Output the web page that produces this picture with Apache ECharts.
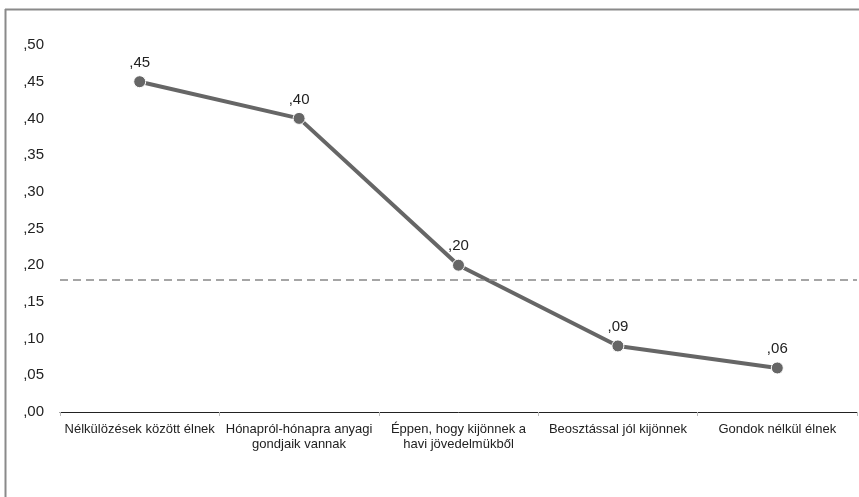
<!DOCTYPE html>
<html><head><meta charset="utf-8">
<script src="https://cdn.jsdelivr.net/npm/echarts@6/dist/echarts.min.js"></script>
<style>html,body{margin:0;padding:0;background:#fff}#c{width:859px;height:497px}</style>
</head><body><div id="c"></div>
<script>
const categories = ['Nélkülözések között élnek', 'Hónapról-hónapra anyagi\ngondjaik vannak', 'Éppen, hogy kijönnek a\nhavi jövedelmükből', 'Beosztással jól kijönnek', 'Gondok nélkül élnek'];
const values = [0.45, 0.40, 0.20, 0.09, 0.06];
const referenceValue = 0.179;
const yTicks = [0, 0.05, 0.1, 0.15, 0.2, 0.25, 0.3, 0.35, 0.4, 0.45, 0.5];

const fmt = v => v.toFixed(2).replace(/^0\./, ',');
const chart = echarts.init(document.getElementById('c'));
chart.setOption({
  animation: false,
  backgroundColor: '#fff',
  textStyle: { fontFamily: 'Liberation Sans, Arial, sans-serif' },
  grid: { left: 60, right: 2, top: 45, bottom: 85 },
  graphic: [
    { type: 'line', shape: { x1: 5.5, y1: 9, x2: 5.5, y2: 497 }, style: { stroke: '#8a8a8a', lineWidth: 2 } },
    { type: 'line', shape: { x1: 5, y1: 9.5, x2: 859, y2: 9.5 }, style: { stroke: '#8a8a8a', lineWidth: 2 } }
  ],
  xAxis: {
    type: 'category',
    data: categories,
    boundaryGap: true,
    axisLine: { lineStyle: { color: '#222', width: 1 } },
    axisTick: { show: true, length: 4, lineStyle: { color: '#bbb' } },
    axisLabel: { color: '#222', fontSize: 13, margin: 10, lineHeight: 15, interval: 0 }
  },
  yAxis: {
    type: 'value',
    min: yTicks[0],
    max: yTicks[yTicks.length - 1],
    interval: 0.05,
    axisLine: { show: false },
    axisTick: { show: false },
    splitLine: { show: false },
    axisLabel: { color: '#222', fontSize: 15, align: 'right', margin: 16, formatter: fmt }
  },
  series: [{
    type: 'line',
    data: values,
    symbol: 'circle',
    symbolSize: 12,
    lineStyle: { color: '#666', width: 4 },
    itemStyle: { color: '#666', borderColor: '#fff', borderWidth: 1 },
    label: { show: true, position: 'top', distance: 5, color: '#222', fontSize: 15, formatter: p => fmt(p.value) },
    markLine: {
      silent: true,
      symbol: 'none',
      label: { show: false },
      lineStyle: { color: '#888', type: [8, 5], width: 1.5 },
      data: [{ yAxis: referenceValue }]
    }
  }]
});
</script></body></html>
